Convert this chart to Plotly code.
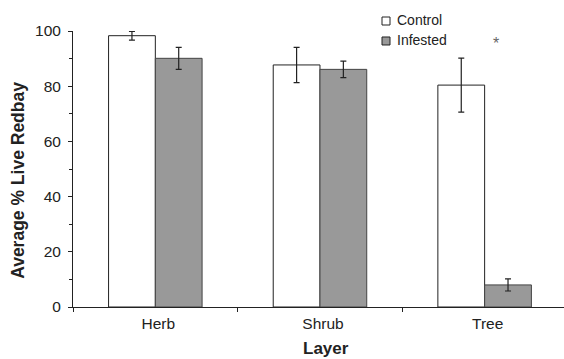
import plotly.graph_objects as go

layers = ["Herb", "Shrub", "Tree"]
control = [98.3, 87.7, 80.4]
control_err = [1.6, 6.4, 9.8]
infested = [90.1, 86.1, 8.0]
infested_err = [4.0, 3.0, 2.2]
y_ticks = [0, 20, 40, 60, 80, 100]
legend_names = ["Control", "Infested"]
legend_fill = ["white", "#999999"]

FONT = "Liberation Sans, Arial, sans-serif"
INK = "#222222"

# plot area in pixels
L, R, T, B = 73, 564, 31, 307.3
def px(x):
    return (x - L) / (R - L)
def py(y):
    return (B - y) / (B - T)

fig = go.Figure()
fig.add_trace(go.Bar(
    x=layers, y=control, name=legend_names[0], showlegend=False,
    marker=dict(color=legend_fill[0], line=dict(color=INK, width=1)),
    error_y=dict(type="data", array=control_err, color=INK, thickness=1.2, width=3),
))
fig.add_trace(go.Bar(
    x=layers, y=infested, name=legend_names[1], showlegend=False,
    marker=dict(color=legend_fill[1], line=dict(color="#444444", width=1)),
    error_y=dict(type="data", array=infested_err, color=INK, thickness=1.2, width=3),
))

# significance marker
fig.add_annotation(x=2.07, y=95.5, xref="x", yref="y", text="*", showarrow=False,
                   font=dict(family=FONT, size=16, color="#666666"))

# manual legend
for i, (name, fill) in enumerate(zip(legend_names, legend_fill)):
    cy = 21 + i * 20
    fig.add_shape(type="rect", xref="paper", yref="paper",
                  x0=px(382), x1=px(390), y0=py(cy - 4), y1=py(cy + 4),
                  fillcolor=fill, line=dict(color=INK, width=1))
    fig.add_annotation(x=px(395), y=py(cy - 1), xref="paper", yref="paper",
                       xanchor="left", yanchor="middle", text=name, showarrow=False,
                       font=dict(family=FONT, size=14, color=INK))

# axis titles
fig.add_annotation(x=px(326), y=py(348.5), xref="paper", yref="paper",
                   text="<b>Layer</b>", showarrow=False,
                   xanchor="center", yanchor="middle",
                   font=dict(family=FONT, size=17, color=INK))
fig.add_annotation(x=px(18), y=py(181), xref="paper", yref="paper",
                   text="<b>Average % Live Redbay</b>", showarrow=False, textangle=-90,
                   xanchor="center", yanchor="middle",
                   font=dict(family=FONT, size=17.5, color=INK))

fig.update_layout(
    width=564, height=359,
    margin=dict(l=L, r=0, t=T, b=359 - B),
    paper_bgcolor="white", plot_bgcolor="white",
    barmode="group", bargap=0.432, bargroupgap=0,
    font=dict(family=FONT, size=15.5, color=INK),
    showlegend=False,
    xaxis=dict(
        range=[-0.5, 2.482], showline=True, linecolor=INK, linewidth=1,
        ticks="outside", tickson="boundaries", ticklen=4, tickcolor=INK,
        ticklabelshift=3, ticklabelstandoff=2,
        showgrid=False, zeroline=False,
    ),
    yaxis=dict(
        range=[0, 100], tickvals=y_ticks, showline=True, linecolor=INK, linewidth=1,
        ticks="outside", ticklen=4, tickcolor=INK, ticklabelstandoff=4,
        minor=dict(dtick=10, ticks="outside", ticklen=3, tickcolor=INK, showgrid=False),
        showgrid=False, zeroline=False,
    ),
)

fig.write_html("out.html")
